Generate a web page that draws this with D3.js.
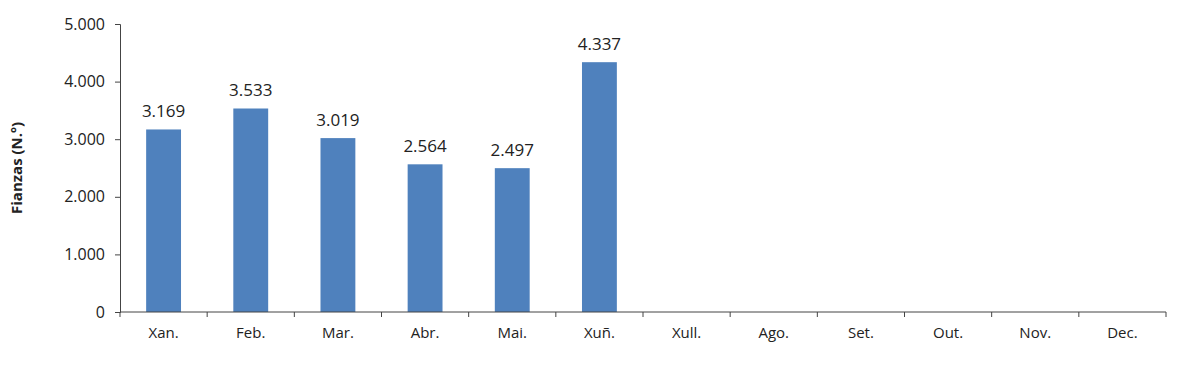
<!DOCTYPE html>
<html>
<head>
<meta charset="utf-8">
<script src="https://cdn.jsdelivr.net/npm/d3@7"></script>
<style>
  body { margin: 0; background: #fff; }
  text { font-family: "Open Sans", "Noto Sans", sans-serif; fill: #222; }
</style>
</head>
<body>
<div id="chart"></div>
<script>
const months = ['Xan.', 'Feb.', 'Mar.', 'Abr.', 'Mai.', 'Xuñ.', 'Xull.', 'Ago.', 'Set.', 'Out.', 'Nov.', 'Dec.'];
const fianzas = [3169, 3533, 3019, 2564, 2497, 4337, null, null, null, null, null, null];
const yTicks = [0, 1000, 2000, 3000, 4000, 5000];

const width = 1200, height = 374;
const margin = { top: 24, right: 34, bottom: 62, left: 120 };

const svg = d3.select('#chart').append('svg')
    .attr('width', width)
    .attr('height', height);

const x = d3.scaleBand()
    .domain(months)
    .range([margin.left, width - margin.right])
    .paddingInner(0.6)
    .paddingOuter(0.3);

const y = d3.scaleLinear()
    .domain([0, 5000])
    .range([height - margin.bottom, margin.top]);

// separador de miles con punto
const fmt = v => d3.format(',')(v).replace(/,/g, '.');

const rows = months.map((m, i) => ({ m, v: fianzas[i] })).filter(d => d.v != null);

// barras
svg.selectAll('rect.bar')
    .data(rows)
    .enter().append('rect')
    .attr('class', 'bar')
    .attr('x', d => x(d.m))
    .attr('width', x.bandwidth())
    .attr('y', d => y(d.v))
    .attr('height', d => y(0) - y(d.v))
    .attr('fill', '#4f81bd');

// etiquetas
svg.selectAll('text.lbl')
    .data(rows)
    .enter().append('text')
    .attr('class', 'lbl')
    .attr('x', d => x(d.m) + x.bandwidth() / 2)
    .attr('y', d => y(d.v) - 12)
    .attr('text-anchor', 'middle')
    .style('font-size', '17px')
    .text(d => fmt(d.v));

// eixo y
const gy = svg.append('g')
    .attr('transform', `translate(${margin.left},0)`)
    .call(d3.axisLeft(y).tickValues(yTicks).tickFormat(fmt).tickSize(5).tickPadding(10));
gy.selectAll('text').style('font-size', '16px');
gy.select('.domain').attr('stroke', '#444');
gy.selectAll('.tick line').attr('stroke', '#444');

// eixo x, ticks nos limites das bandas
const step = x.step();
const gx = svg.append('g')
    .attr('transform', `translate(0,${y(0)})`);
gx.append('line')
    .attr('x1', margin.left).attr('x2', width - margin.right)
    .attr('stroke', '#444');
gx.selectAll('line.tk')
    .data(d3.range(months.length + 1))
    .enter().append('line')
    .attr('class', 'tk')
    .attr('x1', i => margin.left + i * step)
    .attr('x2', i => margin.left + i * step)
    .attr('y2', 5)
    .attr('stroke', '#444');
gx.selectAll('text')
    .data(months)
    .enter().append('text')
    .attr('x', d => x(d) + x.bandwidth() / 2)
    .attr('y', 26)
    .attr('text-anchor', 'middle')
    .style('font-size', '15px')
    .text(d => d);

// título eixo y
svg.append('text')
    .attr('transform', `translate(22,${(margin.top + y(0)) / 2}) rotate(-90)`)
    .attr('text-anchor', 'middle')
    .style('font-size', '15px')
    .style('font-weight', 'bold')
    .text('Fianzas (N.º)');
</script>
</body>
</html>
